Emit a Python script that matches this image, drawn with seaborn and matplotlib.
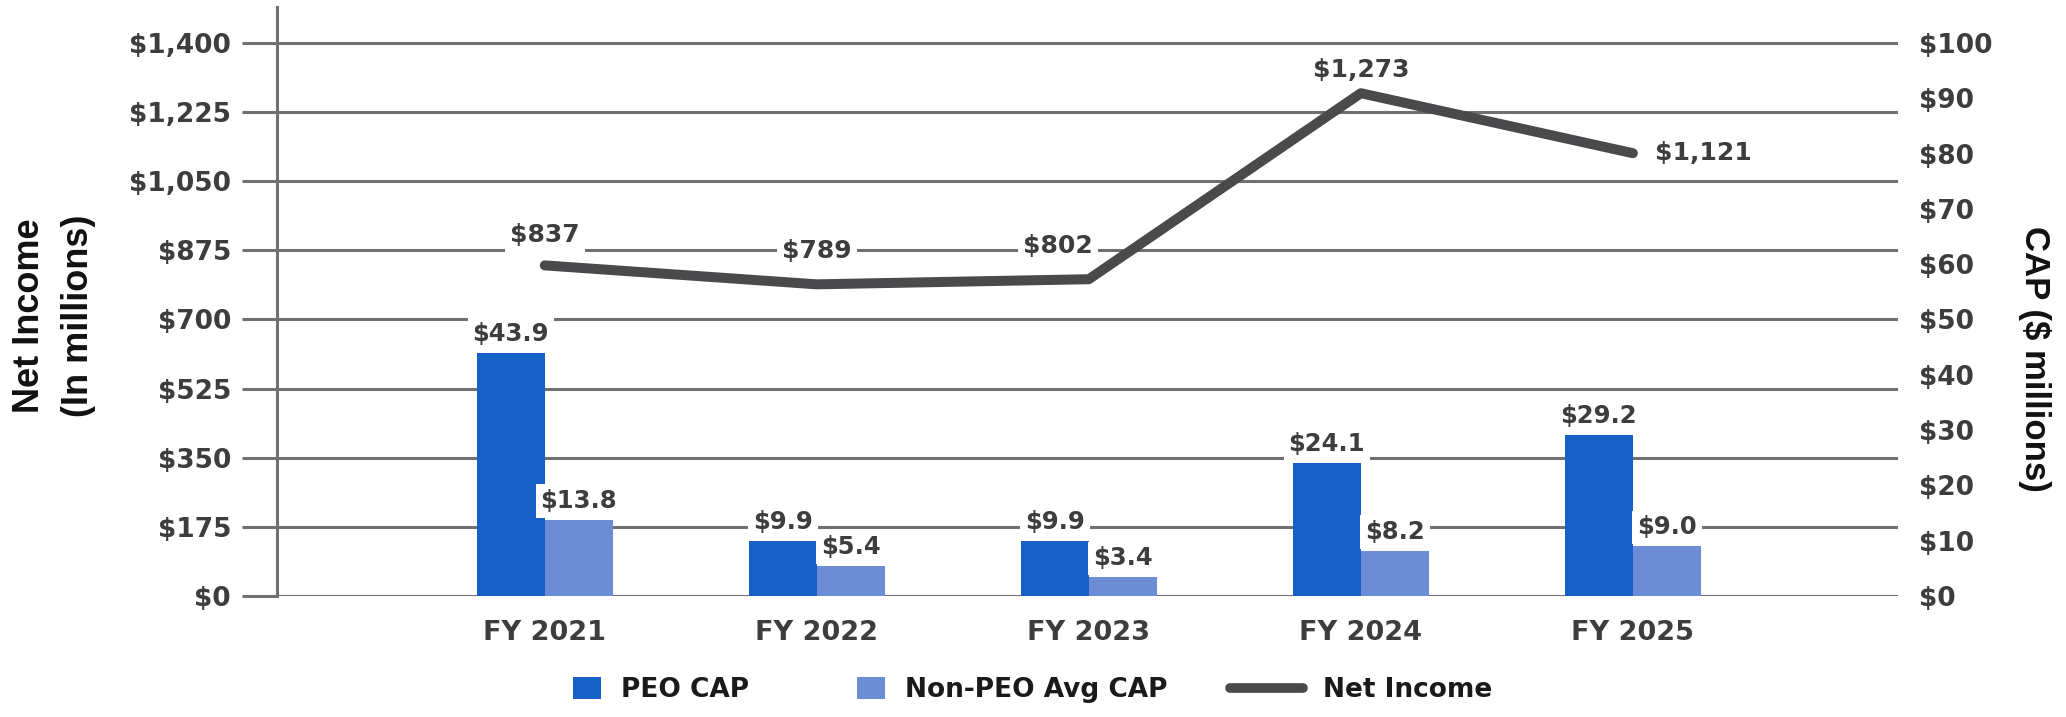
import numpy as np
import pandas as pd
import seaborn as sns
import matplotlib.pyplot as plt
import matplotlib.patches as mpatches
from matplotlib.lines import Line2D
from matplotlib.legend_handler import HandlerPatch
from matplotlib.ticker import FuncFormatter

years = ["FY 2021", "FY 2022", "FY 2023", "FY 2024", "FY 2025"]
net_income = [837, 789, 802, 1273, 1121]
peo_cap = [43.9, 9.9, 9.9, 24.1, 29.2]
non_peo_cap = [13.8, 5.4, 3.4, 8.2, 9.0]
series_names = ["PEO CAP", "Non-PEO Avg CAP", "Net Income"]

left_ticks = np.arange(0, 1401, 175)
right_ticks = np.arange(0, 101, 10)

PEO_COLOR = "#1660c6"
NON_PEO_COLOR = "#6c8dd6"
LINE_COLOR = "#4a4a4c"
GRID_COLOR = "#707070"
TEXT_COLOR = "#3d3d3d"

sns.set_style("white")
plt.rcParams["font.family"] = ["DejaVu Sans"]
plt.rcParams["font.weight"] = "bold"

cap_df = pd.DataFrame({
    "year": years * 2,
    "cap": peo_cap + non_peo_cap,
    "series": [series_names[0]] * len(years) + [series_names[1]] * len(years),
})

fig = plt.figure(figsize=(20.66, 7.17), dpi=100)
ax = fig.add_axes([0.134, 0.1688, 0.7846, 0.8214])
ax2 = ax.twinx()

# bars on the CAP axis (right)
sns.barplot(data=cap_df, x="year", y="cap", hue="series",
            palette=[PEO_COLOR, NON_PEO_COLOR], saturation=1, width=0.5,
            linewidth=0, legend=False, ax=ax2)

# net income line on the left axis
x_pos = np.arange(len(years))
sns.lineplot(x=x_pos, y=net_income, color=LINE_COLOR, linewidth=7.2,
             solid_capstyle="round", legend=False, ax=ax)

# scales
scale = 589 / 553
ax.set_ylim(0, 1400 * scale)
ax2.set_ylim(0, 100 * scale)
ax.set_xlim(-0.985, 4.974)
ax.set_yticks(left_ticks)
ax2.set_yticks(right_ticks)
ax.yaxis.set_major_formatter(FuncFormatter(lambda v, p: f"${v:,.0f}"))
ax2.yaxis.set_major_formatter(FuncFormatter(lambda v, p: f"${v:.0f}"))
ax.set_xticks(x_pos)
ax.set_xticklabels(years)
ax.set_xlabel("")
ax.set_ylabel("")
ax2.set_xlabel("")
ax2.set_ylabel("")

ax.grid(axis="y", color=GRID_COLOR, linewidth=2.2)
ax.grid(axis="x", visible=False)
ax.set_axisbelow(True)
for side in ["top", "right", "bottom"]:
    ax.spines[side].set_visible(False)
    ax2.spines[side].set_visible(False)
ax2.spines["left"].set_visible(False)
ax.spines["left"].set_color(GRID_COLOR)
ax.spines["left"].set_linewidth(2.2)

ax.tick_params(axis="y", length=25, width=2.2, color=GRID_COLOR, pad=8,
               labelsize=19, labelcolor=TEXT_COLOR)
ax2.tick_params(axis="y", length=0, pad=15, labelsize=19, labelcolor=TEXT_COLOR)
ax.tick_params(axis="x", length=0, pad=17, labelsize=19.5, labelcolor=TEXT_COLOR)

box = dict(boxstyle="square,pad=0.2", facecolor="white", edgecolor="none")

# bar labels
for container in ax2.containers:
    for bar in container:
        h = bar.get_height()
        ax2.annotate(f"${h:.1f}", (bar.get_x() + bar.get_width() / 2, h),
                     xytext=(0, 8.5), textcoords="offset points",
                     ha="center", va="baseline", fontsize=17.5,
                     color=TEXT_COLOR, bbox=box, zorder=5)

# line labels (offsets in points, placed by hand like the original)
label_offsets = [(0, 17), (0, 19), (-22, 19), (0, 12), (16, 0)]
for i, v in enumerate(net_income):
    dx, dy = label_offsets[i]
    if dy == 0:
        ax.annotate(f"${v:,}", (x_pos[i], v), xytext=(dx, dy),
                    textcoords="offset points", ha="left", va="center",
                    fontsize=18, color=TEXT_COLOR, bbox=box, zorder=5)
    else:
        ax.annotate(f"${v:,}", (x_pos[i], v), xytext=(dx, dy),
                    textcoords="offset points", ha="center", va="baseline",
                    fontsize=18, color=TEXT_COLOR, bbox=box, zorder=5)

# axis titles
fig.text(54 / 2066, 1 - 316 / 717, "Net Income\n(In millions)", rotation=90,
         ha="center", va="center", multialignment="center", linespacing=1.55,
         fontsize=26, fontweight="bold", family=["Liberation Sans"], color="#111111")
fig.text(2034 / 2066, 1 - 359 / 717, "CAP ($ millions)", rotation=270,
         ha="center", va="center", fontsize=25, fontweight="bold",
         family=["Liberation Sans"], color="#111111")


def right_box(legend, orig_handle, xdescent, ydescent, width, height, fontsize):
    w, h = 1.06 * fontsize, 0.84 * fontsize
    return mpatches.Rectangle((-xdescent + width - w, -ydescent + (height - h) / 2), w, h)


handles = [
    mpatches.Patch(facecolor=PEO_COLOR, edgecolor="none"),
    mpatches.Patch(facecolor=NON_PEO_COLOR, edgecolor="none"),
    Line2D([], [], color=LINE_COLOR, linewidth=7, solid_capstyle="round"),
]
fig.legend(handles, series_names, loc="center", bbox_to_anchor=(0.489, 1 - 690 / 717),
           ncol=3, frameon=False, fontsize=19, labelcolor="#1a1a1a",
           handlelength=2.75, handletextpad=0.75, columnspacing=2.4,
           handler_map={mpatches.Patch: HandlerPatch(patch_func=right_box)})

fig.savefig("out.png", dpi=100)
